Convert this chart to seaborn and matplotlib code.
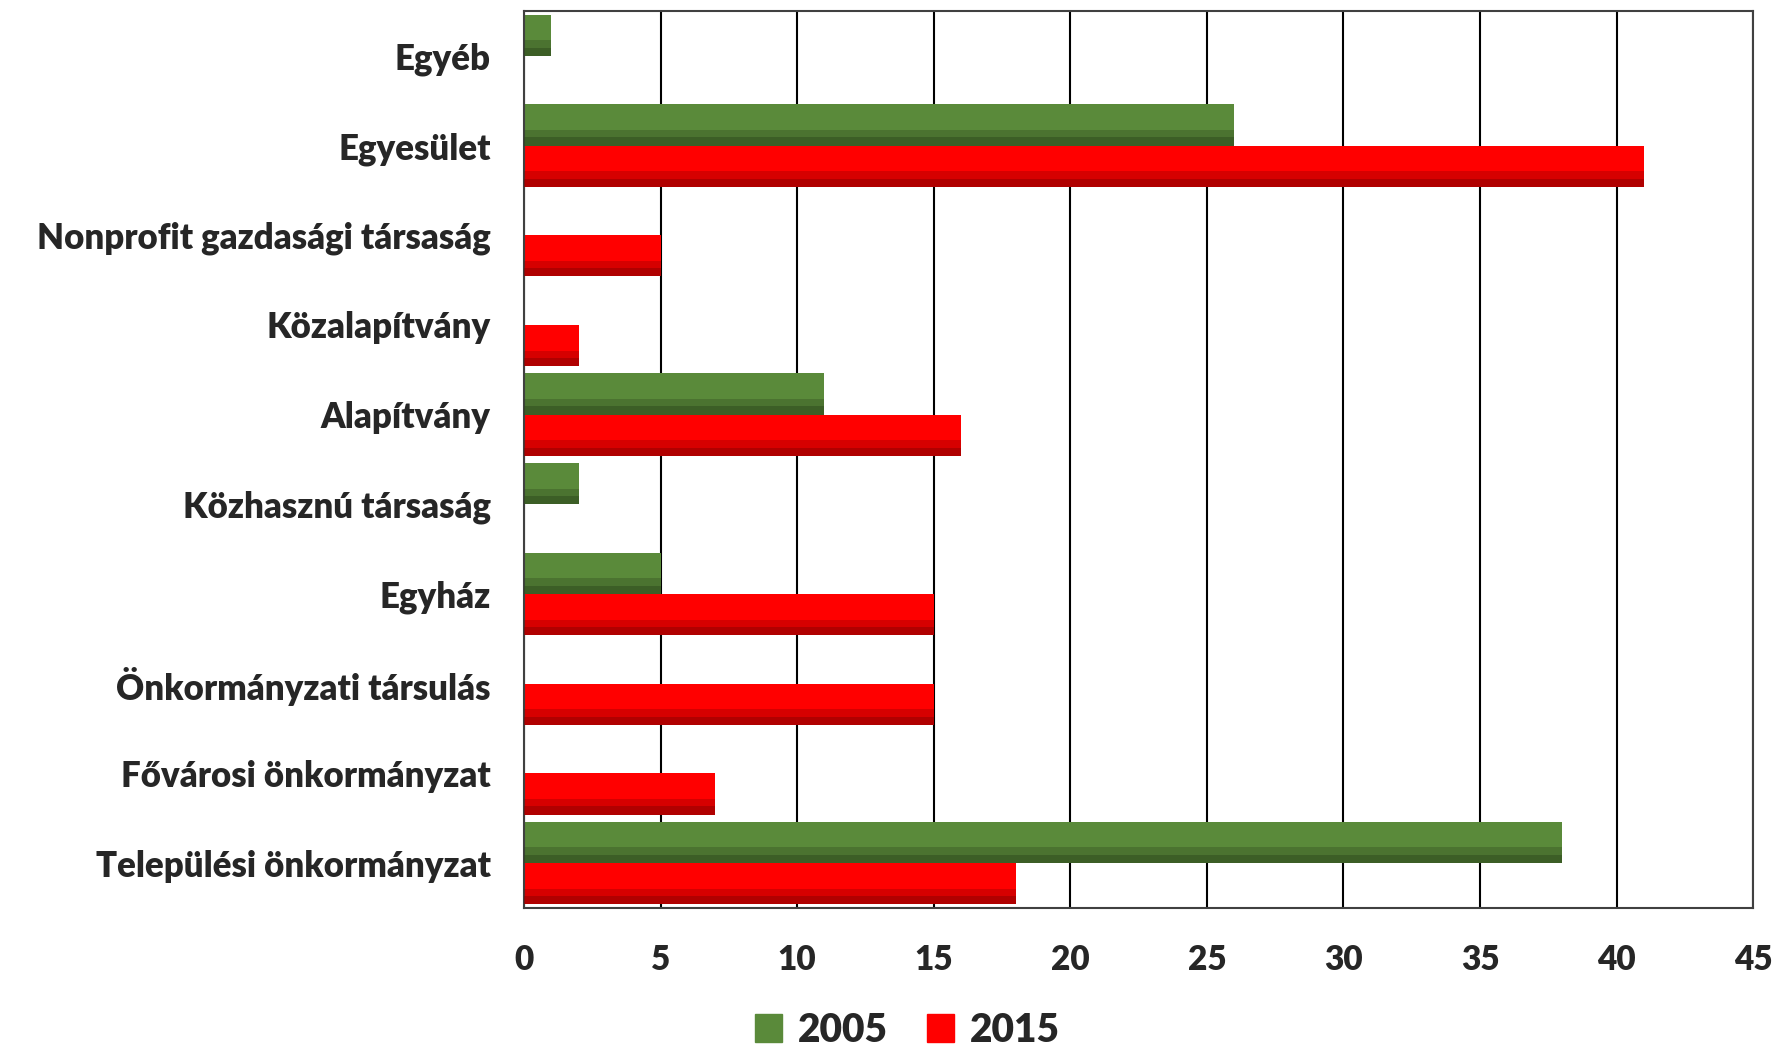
import numpy as np
import pandas as pd
import matplotlib.pyplot as plt
import seaborn as sns

categories = ["Egyéb", "Egyesület", "Nonprofit gazdasági társaság", "Közalapítvány",
              "Alapítvány", "Közhasznú társaság", "Egyház", "Önkormányzati társulás",
              "Fővárosi önkormányzat", "Települési önkormányzat"]
values_2005 = [1, 26, 0, 0, 11, 2, 5, 0, 0, 38]
values_2015 = [0, 41, 5, 2, 16, 0, 15, 15, 7, 18]
years = ["2005", "2015"]

df = pd.DataFrame({
    "cat": categories * 2,
    "val": values_2005 + values_2015,
    "year": [years[0]] * len(categories) + [years[1]] * len(categories),
})

sns.set_style("white")
plt.rcParams['font.family'] = ['Lato', 'DejaVu Sans']
plt.rcParams['font.weight'] = 'bold'

fig = plt.figure(figsize=(17.79, 10.47), dpi=100)
ax = fig.add_axes([0.2945, 0.1328, 0.691, 0.8567])

pal = {"2005": "#5A8A3A", "2015": "#FF0000"}
sns.barplot(data=df, y="cat", x="val", hue="year", order=categories, hue_order=years,
            palette=pal, width=0.92, orient="h", ax=ax, legend=False,
            saturation=1, edgecolor="none")

# darker lower part to hint the bevel look
for patch, col in zip(ax.patches, ["#2F4A1E"] * 10 + ["#8B0000"] * 10):
    if patch.get_width() <= 0:
        continue
    x, y = patch.get_x(), patch.get_y()
    w, h = patch.get_width(), patch.get_height()
    ax.add_patch(plt.Rectangle((x, y + h * 0.62), w, h * 0.38, color=col, alpha=0.35, lw=0, zorder=3))
    ax.add_patch(plt.Rectangle((x, y + h * 0.80), w, h * 0.20, color=col, alpha=0.5, lw=0, zorder=3))

ax.set_xlim(0, 45)
ax.set_xticks(range(0, 46, 5))
ax.xaxis.grid(True, color="black", lw=1.5)
ax.yaxis.grid(False)
ax.set_axisbelow(True)
for s in ax.spines.values():
    s.set_visible(True)
    s.set_color("#404040")
    s.set_linewidth(1.5)
ax.set_xlabel("")
ax.set_ylabel("")
ax.tick_params(axis="x", labelsize=24, pad=26, length=0)
ax.tick_params(axis="y", labelsize=25, pad=24, length=0)
for lbl in ax.get_xticklabels() + ax.get_yticklabels():
    lbl.set_fontweight("heavy")

handles = [plt.Rectangle((0, 0), 1, 1, color=pal[y]) for y in years]
fig.legend(handles, years, loc="lower center", bbox_to_anchor=(0.51, -0.035), ncol=2,
           frameon=False, prop={"size": 28, "weight": "heavy"}, handlelength=0.7,
           handleheight=0.7, columnspacing=1.0, handletextpad=0.4)

fig.savefig("out.png", dpi=100)
